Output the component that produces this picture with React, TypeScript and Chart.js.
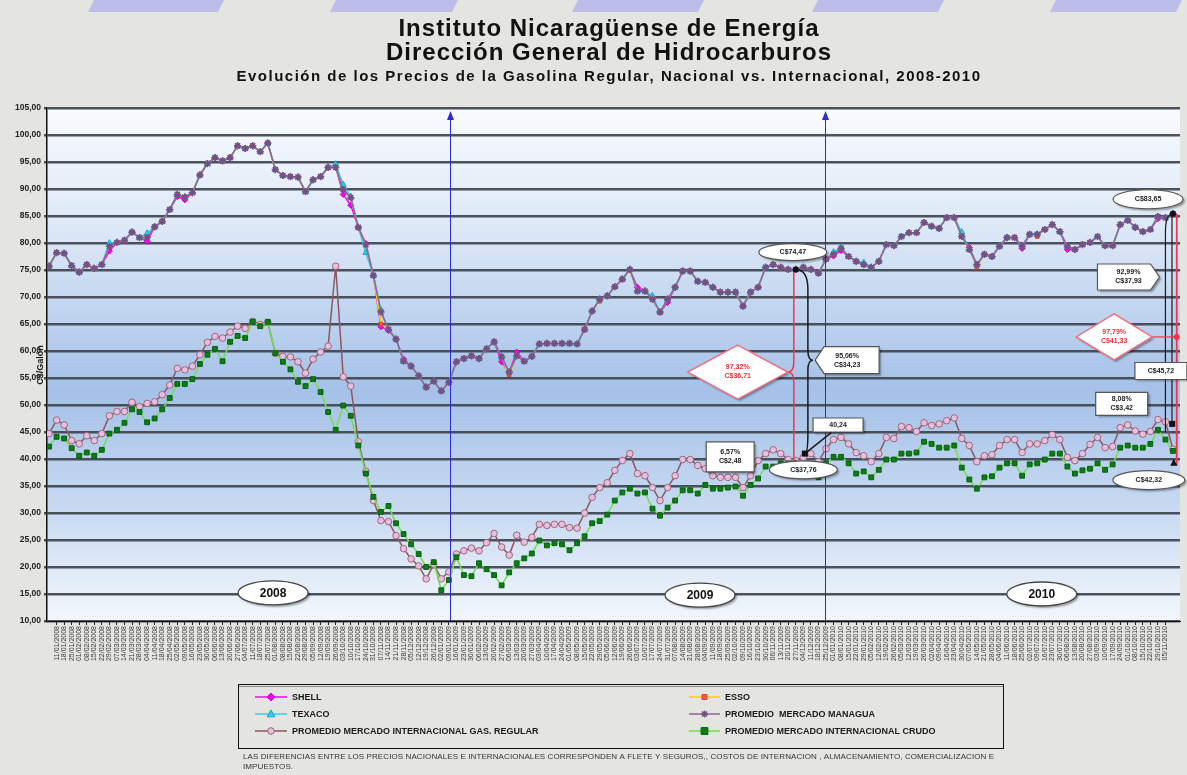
import React, { useEffect, useRef } from 'react';
import { Chart, registerables } from 'chart.js';

Chart.register(...registerables);

// ---------------- DATA ----------------
const WEEK_COUNT = 150;
const FIRST_WEEK = { year: 2008, month: 0, day: 4 };
const WEEK_LABELS: string[] = Array.from({ length: WEEK_COUNT }, (_, i) => {
  const d = new Date(Date.UTC(FIRST_WEEK.year, FIRST_WEEK.month, FIRST_WEEK.day + 7 * i));
  const dd = String(d.getUTCDate()).padStart(2, '0');
  const mm = String(d.getUTCMonth() + 1).padStart(2, '0');
  return `${dd}/${mm}/${d.getUTCFullYear()}`;
});

const MANAGUA = [
  75.7, 78.2, 78.1, 75.8, 74.6, 76.0, 75.3, 76.0, 79.4, 80.1,
  80.5, 82.0, 81.0, 81.0, 83.0, 84.0, 86.2, 89.0, 88.5, 89.3,
  92.6, 94.7, 95.8, 95.2, 95.8, 98.0, 97.5, 98.0, 96.9, 98.5,
  93.6, 92.5, 92.3, 92.2, 89.5, 91.7, 92.3, 94.0, 94.0, 89.9,
  88.4, 82.9, 79.7, 74.0, 67.2, 64.0, 62.2, 58.1, 57.2, 55.4,
  53.3, 54.4, 52.6, 54.2, 58.0, 58.6, 59.1, 58.6, 60.4, 61.7,
  58.9, 56.1, 59.1, 58.1, 59.0, 61.3, 61.4, 61.4, 61.4, 61.4,
  61.3, 64.0, 67.4, 69.6, 70.2, 71.9, 73.3, 75.1, 71.1, 71.1,
  69.6, 67.2, 69.6, 71.8, 74.8, 74.8, 72.9, 72.7, 71.8, 70.9,
  70.9, 70.9, 68.3, 70.9, 71.8, 75.5, 76.0, 75.5, 75.1, 75.1,
  75.5, 75.1, 74.4, 77.0, 77.9, 79.0, 77.5, 76.6, 76.0, 75.5,
  76.6, 79.7, 79.5, 81.2, 81.9, 81.9, 83.8, 83.1, 82.7, 84.7,
  84.7, 81.2, 78.8, 76.0, 77.9, 77.5, 79.4, 81.0, 81.0, 79.4,
  81.6, 81.6, 82.5, 83.4, 82.1, 79.4, 78.8, 79.7, 80.1, 81.2,
  79.5, 79.5, 83.4, 84.2, 82.9, 82.1, 82.5, 84.9, 84.7, 85.4,
];

const SHELL = [
  75.7, 78.2, 78.1, 75.8, 74.6, 76.0, 75.3, 76.0, 78.5, 80.1,
  80.5, 82.0, 81.0, 80.3, 83.0, 84.0, 86.2, 88.6, 88.0, 89.3,
  92.6, 94.7, 95.8, 95.2, 95.8, 98.0, 97.5, 98.0, 96.9, 98.5,
  93.6, 92.5, 92.3, 92.2, 89.5, 91.7, 92.3, 94.0, 94.0, 89.0,
  87.0, 82.9, 79.9, 74.0, 64.5, 63.8, 62.2, 58.5, 57.2, 55.4,
  53.3, 54.4, 52.6, 54.2, 58.0, 58.6, 59.1, 58.6, 60.4, 61.7,
  58.0, 56.1, 59.8, 58.1, 59.0, 61.3, 61.4, 61.4, 61.4, 61.4,
  61.3, 64.0, 67.4, 69.6, 70.2, 71.9, 73.3, 75.1, 71.8, 71.1,
  69.6, 67.2, 69.0, 71.8, 74.8, 74.8, 72.9, 72.7, 71.8, 70.9,
  70.9, 70.9, 68.3, 70.9, 71.8, 75.5, 76.0, 75.5, 75.1, 75.1,
  75.5, 75.1, 74.4, 77.0, 77.6, 78.6, 77.5, 76.6, 76.0, 75.5,
  76.6, 79.7, 79.5, 81.2, 81.9, 81.9, 83.8, 83.1, 82.7, 84.7,
  84.7, 81.2, 79.2, 76.0, 77.9, 77.5, 79.4, 81.0, 81.0, 79.0,
  81.6, 81.6, 82.5, 83.4, 82.1, 78.8, 78.8, 79.7, 80.1, 81.2,
  79.5, 79.5, 83.4, 84.2, 82.9, 82.1, 82.5, 84.5, 84.7, 85.4,
];

const ESSO = [
  75.7, 78.2, 78.1, 75.8, 74.6, 76.0, 75.3, 76.0, 79.4, 80.1,
  80.5, 82.0, 81.0, 81.0, 83.0, 84.0, 86.2, 89.0, 88.5, 89.3,
  92.6, 94.7, 95.8, 95.2, 95.8, 98.0, 97.5, 98.0, 96.9, 98.5,
  93.6, 92.5, 92.3, 92.2, 89.5, 91.7, 92.3, 94.0, 94.0, 89.9,
  88.4, 82.9, 79.7, 74.0, 65.0, 64.0, 62.2, 58.1, 57.2, 55.4,
  53.3, 54.4, 52.6, 54.2, 58.0, 58.6, 59.1, 58.6, 60.4, 61.7,
  58.9, 55.6, 59.1, 58.1, 59.0, 61.3, 61.4, 61.4, 61.4, 61.4,
  61.3, 64.0, 67.4, 69.2, 70.2, 71.9, 73.3, 75.1, 71.1, 71.1,
  69.6, 67.2, 69.6, 71.8, 74.8, 74.8, 72.9, 72.7, 71.8, 70.9,
  70.9, 70.9, 68.3, 70.9, 71.8, 75.5, 76.0, 75.5, 75.1, 75.1,
  75.5, 75.1, 74.4, 77.0, 77.9, 79.0, 77.5, 76.6, 76.0, 75.5,
  76.6, 79.7, 79.5, 81.2, 81.9, 81.9, 83.8, 83.1, 82.7, 84.7,
  84.7, 81.2, 78.8, 75.5, 77.9, 77.5, 79.4, 81.0, 81.0, 79.4,
  81.6, 81.2, 82.5, 83.4, 82.1, 79.4, 78.8, 79.7, 80.1, 81.2,
  79.5, 79.5, 83.4, 84.2, 82.9, 82.1, 82.5, 84.9, 84.7, 85.4,
];

const TEXACO = [
  75.7, 78.2, 78.1, 75.8, 74.6, 76.0, 75.3, 76.0, 80.0, 80.1,
  80.5, 82.0, 81.0, 81.8, 83.0, 84.0, 86.2, 89.0, 88.5, 89.3,
  92.6, 94.7, 95.8, 95.2, 95.8, 98.0, 97.5, 98.0, 96.9, 98.5,
  93.6, 92.5, 92.3, 92.2, 89.5, 91.7, 92.3, 94.0, 94.6, 90.8,
  88.6, 82.9, 78.2, 74.0, 67.6, 64.0, 62.2, 58.1, 57.2, 55.4,
  53.3, 54.4, 52.6, 54.2, 58.0, 58.6, 59.1, 58.6, 60.4, 61.7,
  58.9, 56.1, 59.1, 58.1, 59.0, 61.3, 61.4, 61.4, 61.4, 61.4,
  61.3, 64.0, 67.4, 69.6, 70.2, 71.9, 73.3, 75.1, 71.1, 71.1,
  70.2, 67.2, 69.6, 71.8, 74.8, 74.8, 72.9, 72.7, 71.8, 70.9,
  70.9, 70.9, 68.3, 70.9, 71.8, 75.5, 76.0, 75.5, 75.1, 75.1,
  75.5, 75.1, 74.4, 77.0, 78.3, 79.2, 77.5, 76.6, 76.4, 75.5,
  76.6, 79.7, 79.5, 81.2, 81.9, 81.9, 83.8, 83.1, 82.7, 84.7,
  84.7, 82.0, 78.8, 76.0, 77.9, 77.5, 79.4, 81.0, 81.0, 79.4,
  81.6, 81.6, 82.5, 83.4, 82.1, 79.4, 78.8, 79.7, 80.1, 81.2,
  79.5, 79.5, 83.4, 84.2, 82.9, 82.1, 82.5, 84.9, 84.7, 85.4,
];

const INT_GAS = [
  44.7, 47.2, 46.3, 43.4, 42.8, 44.3, 43.4, 44.7, 48.0, 48.8,
  48.8, 50.5, 49.7, 50.3, 50.6, 51.9, 53.7, 56.8, 56.5, 57.2,
  59.3, 61.6, 62.7, 62.4, 63.5, 64.6, 64.2, 65.5, 64.9, 65.3,
  59.6, 59.0, 58.9, 58.0, 55.9, 58.5, 59.8, 60.9, 75.7, 55.2,
  53.5, 43.2, 37.7, 32.3, 28.6, 28.4, 25.8, 23.4, 21.5, 20.2,
  17.8, 20.5, 17.8, 19.1, 22.4, 23.0, 23.5, 23.0, 24.5, 26.2,
  23.7, 22.2, 25.9, 24.6, 25.5, 27.9, 27.7, 27.9, 27.9, 27.3,
  27.2, 30.0, 32.9, 34.7, 35.6, 37.9, 39.7, 41.0, 37.3, 36.9,
  34.7, 32.3, 34.7, 36.9, 39.9, 39.9, 38.8, 38.2, 36.9, 36.6,
  36.6, 36.6, 34.7, 36.9, 39.7, 41.0, 41.7, 41.0, 39.9, 39.7,
  40.3, 41.0, 39.5, 41.9, 43.6, 44.0, 42.8, 41.2, 40.6, 39.5,
  41.0, 44.0, 43.8, 46.0, 45.8, 45.1, 46.7, 46.2, 46.5, 47.1,
  47.6, 43.8, 42.5, 39.5, 40.6, 40.8, 42.5, 43.6, 43.6, 41.2,
  42.8, 42.8, 43.4, 44.5, 43.6, 40.3, 39.7, 41.0, 42.7, 44.0,
  42.1, 42.3, 45.8, 46.3, 45.2, 44.6, 45.1, 47.3, 46.9, 41.8,
];

const INT_CRUDO = [
  42.3, 44.1, 43.8, 42.0, 40.6, 41.2, 40.6, 41.7, 44.7, 45.4,
  46.7, 49.2, 48.7, 46.8, 47.5, 49.2, 51.3, 53.9, 53.9, 54.8,
  57.6, 59.3, 60.4, 58.1, 61.7, 62.8, 62.4, 65.4, 64.6, 65.4,
  59.6, 58.0, 56.6, 54.3, 53.5, 54.8, 52.4, 48.7, 45.4, 49.9,
  48.0, 42.5, 37.3, 33.0, 30.2, 31.3, 28.1, 26.1, 24.2, 22.4,
  20.0, 20.9, 15.7, 17.6, 21.8, 18.5, 18.3, 20.7, 19.6, 18.5,
  16.6, 19.0, 20.7, 21.6, 22.5, 24.9, 24.0, 24.4, 24.2, 23.1,
  24.4, 25.7, 28.1, 28.5, 29.7, 32.3, 33.8, 34.5, 33.6, 33.8,
  30.8, 29.5, 31.0, 32.3, 34.2, 34.2, 33.6, 35.2, 34.5, 34.5,
  34.7, 34.9, 33.2, 35.2, 36.4, 38.6, 38.6, 39.2, 39.2, 38.6,
  37.9, 38.4, 36.6, 39.2, 40.4, 40.4, 39.2, 37.3, 37.7, 36.6,
  38.0, 39.9, 39.9, 41.0, 41.0, 41.2, 43.2, 42.8, 42.1, 42.1,
  42.5, 38.4, 36.2, 34.5, 36.6, 36.8, 38.4, 39.2, 39.2, 36.9,
  39.0, 39.2, 39.9, 41.0, 41.0, 38.6, 37.3, 37.9, 38.2, 39.2,
  38.0, 39.0, 42.1, 42.5, 42.1, 42.1, 42.8, 45.4, 43.6, 41.5,
];

const Y_MIN = 10;
const Y_MAX = 105;
const Y_STEP = 5;

const TITLE_LINES = ['Instituto Nicaragüense de Energía', 'Dirección General de Hidrocarburos'];
const SUBTITLE = 'Evolución de los Precios de la Gasolina Regular, Nacional vs. Internacional, 2008-2010';
const Y_AXIS_TITLE = 'C$/Galón';
const FOOTNOTE = [
  'LAS DIFERENCIAS ENTRE LOS PRECIOS NACIONALES E INTERNACIONALES CORRESPONDEN A FLETE Y SEGUROS,, COSTOS DE INTERNACION , ALMACENAMIENTO, COMERCIALIZACION E',
  'IMPUESTOS.',
];

// year dividers (x in week index) and year tags
const YEAR_DIVIDERS = [53.2, 102.9];
const YEAR_TAGS = [
  { text: '2008', x: 29.7, y: 15.2 },
  { text: '2009', x: 86.3, y: 14.8 },
  { text: '2010', x: 131.6, y: 15.0 },
];

type Note = { kind: string; x: number; y: number; w: number; h: number; lines: string[]; red?: boolean };
const NOTES: Note[] = [
  { kind: 'ellipse', x: 98.6, y: 78.3, w: 68, h: 17, lines: ['C$74,47'] },
  { kind: 'diamond', x: 91.3, y: 56.1, w: 100, h: 54, lines: ['97,32%', 'C$36,71'], red: true },
  { kind: 'calloutL', x: 105.8, y: 58.3, w: 64, h: 27, lines: ['95,06%', 'C$34,23'] },
  { kind: 'box', x: 104.6, y: 46.3, w: 50, h: 14, lines: ['40,24'] },
  { kind: 'box', x: 90.3, y: 40.4, w: 48, h: 30, lines: ['6,57%', 'C$2,48'] },
  { kind: 'ellipse', x: 100.0, y: 38.0, w: 68, h: 18, lines: ['C$37,76'] },
  { kind: 'ellipse', x: 145.7, y: 88.1, w: 70, h: 19, lines: ['C$83,65'] },
  { kind: 'calloutR', x: 143.1, y: 73.7, w: 62, h: 26, lines: ['92,99%', 'C$37,93'] },
  { kind: 'diamond', x: 141.2, y: 62.6, w: 76, h: 46, lines: ['97,79%', 'C$41,33'], red: true },
  { kind: 'box', x: 147.4, y: 56.3, w: 52, h: 17, lines: ['C$45,72'] },
  { kind: 'box', x: 142.2, y: 50.2, w: 52, h: 23, lines: ['8,08%', 'C$3,42'] },
  { kind: 'ellipse', x: 145.8, y: 36.1, w: 72, h: 19, lines: ['C$42,32'] },
];

const SERIES = [
  { label: 'SHELL', data: SHELL, line: '#ff00ff', style: 'rectRot', fill: '#ff00ff', stroke: '#c400c4', r: 3, order: 3 },
  { label: 'ESSO', data: ESSO, line: '#ffd200', style: 'rect', fill: '#ff5c3a', stroke: '#e0401e', r: 2.5, order: 2 },
  { label: 'TEXACO', data: TEXACO, line: '#33ccee', style: 'triangle', fill: '#33ccee', stroke: '#1aa6d0', r: 3.5, order: 1 },
  { label: 'PROMEDIO  MERCADO MANAGUA', data: MANAGUA, line: '#8a6a8e', style: 'star', fill: '#9a5a9a', stroke: '#765080', r: 3.6, order: 0 },
  { label: 'PROMEDIO MERCADO INTERNACIONAL GAS. REGULAR', data: INT_GAS, line: '#8e5660', style: 'circle', fill: '#e9bde3', stroke: '#9a6a72', r: 3.3, order: 5 },
  { label: 'PROMEDIO MERCADO INTERNACIONAL CRUDO', data: INT_CRUDO, line: '#70e04c', style: 'rect', fill: '#0c7c18', stroke: '#06600f', r: 3.4, order: 4 },
];

// legend layout: [series index, column, row]
const LEGEND_ORDER = [[0, 0, 0], [1, 1, 0], [2, 0, 1], [3, 1, 1], [4, 0, 2], [5, 1, 2]];

const FONT = '"Liberation Sans", Arial, sans-serif';

function drawMarker(ctx: CanvasRenderingContext2D, style: string, x: number, y: number, r: number, fill: string, stroke: string) {
  ctx.save();
  ctx.fillStyle = fill;
  ctx.strokeStyle = stroke;
  ctx.lineWidth = 1;
  ctx.beginPath();
  if (style === 'circle') {
    ctx.arc(x, y, r, 0, Math.PI * 2);
    ctx.fill(); ctx.stroke();
  } else if (style === 'rect') {
    ctx.rect(x - r, y - r, 2 * r, 2 * r);
    ctx.fill(); ctx.stroke();
  } else if (style === 'rectRot') {
    const k = r * 1.3;
    ctx.moveTo(x, y - k); ctx.lineTo(x + k, y); ctx.lineTo(x, y + k); ctx.lineTo(x - k, y); ctx.closePath();
    ctx.fill(); ctx.stroke();
  } else if (style === 'triangle') {
    ctx.moveTo(x, y - r * 1.2); ctx.lineTo(x + r * 1.1, y + r * 0.8); ctx.lineTo(x - r * 1.1, y + r * 0.8); ctx.closePath();
    ctx.fill(); ctx.stroke();
  } else if (style === 'star') {
    ctx.lineWidth = 1.5;
    ctx.moveTo(x - r, y); ctx.lineTo(x + r, y);
    ctx.moveTo(x, y - r); ctx.lineTo(x, y + r);
    const d = r * 0.7;
    ctx.moveTo(x - d, y - d); ctx.lineTo(x + d, y + d);
    ctx.moveTo(x - d, y + d); ctx.lineTo(x + d, y - d);
    ctx.stroke();
  }
  ctx.restore();
}

function drawNote(ctx: CanvasRenderingContext2D, n: Note, cx: number, cy: number) {
  const x0 = cx - n.w / 2, x1 = cx + n.w / 2, y0 = cy - n.h / 2, y1 = cy + n.h / 2;
  ctx.save();
  ctx.beginPath();
  if (n.kind === 'ellipse') {
    ctx.ellipse(cx, cy, n.w / 2, n.h / 2, 0, 0, Math.PI * 2);
  } else if (n.kind === 'diamond') {
    ctx.moveTo(cx, y0); ctx.lineTo(x1, cy); ctx.lineTo(cx, y1); ctx.lineTo(x0, cy); ctx.closePath();
  } else if (n.kind === 'calloutL') {
    ctx.moveTo(x0 + 9, y0); ctx.lineTo(x1, y0); ctx.lineTo(x1, y1); ctx.lineTo(x0 + 9, y1); ctx.lineTo(x0, cy); ctx.closePath();
  } else if (n.kind === 'calloutR') {
    ctx.moveTo(x0, y0); ctx.lineTo(x1 - 9, y0); ctx.lineTo(x1, cy); ctx.lineTo(x1 - 9, y1); ctx.lineTo(x0, y1); ctx.closePath();
  } else {
    ctx.rect(x0, y0, n.w, n.h);
  }
  ctx.shadowColor = 'rgba(0,0,0,0.35)';
  ctx.shadowOffsetX = 2;
  ctx.shadowOffsetY = 2;
  ctx.shadowBlur = 2;
  ctx.fillStyle = '#ffffff';
  ctx.fill();
  ctx.shadowColor = 'transparent';
  ctx.lineWidth = n.red ? 1.5 : 1.2;
  ctx.strokeStyle = n.red ? '#ee6f80' : '#555555';
  ctx.stroke();
  ctx.fillStyle = n.red ? '#e8303c' : '#222222';
  ctx.font = `bold 7px ${FONT}`;
  ctx.textAlign = 'center';
  ctx.textBaseline = 'middle';
  const lh = 9;
  n.lines.forEach((t, i) => {
    ctx.fillText(t, cx, cy + (i - (n.lines.length - 1) / 2) * lh);
  });
  ctx.restore();
}

const pagePlugin = {
  id: 'pageDecor',
  beforeDraw(chart: any) {
    const { ctx, chartArea: a, width, height } = chart;
    ctx.save();
    ctx.fillStyle = '#e4e4e1';
    ctx.fillRect(0, 0, width, height);
    // decorative header bars
    ctx.fillStyle = '#bcbde8';
    const bars = [[88, 218], [330, 452], [572, 698], [812, 938], [1050, 1176]];
    bars.forEach(([b0, b1]) => {
      ctx.beginPath();
      ctx.moveTo(b0 + 6, 0); ctx.lineTo(b1 + 6, 0); ctx.lineTo(b1, 12); ctx.lineTo(b0, 12); ctx.closePath();
      ctx.fill();
    });
    const g = ctx.createLinearGradient(0, a.top, 0, a.bottom);
    g.addColorStop(0, '#f8fbfe');
    g.addColorStop(0.25, '#dbe7f6');
    g.addColorStop(0.55, '#a5c1e8');
    g.addColorStop(0.8, '#cbdcf2');
    g.addColorStop(1, '#f3f7fc');
    ctx.fillStyle = g;
    ctx.fillRect(a.left, a.top, a.right - a.left, a.bottom - a.top);
    ctx.restore();
  },
  afterDatasetsDraw(chart: any) {
    const { ctx, chartArea: a } = chart;
    const X = (v: number) => chart.scales.x.getPixelForValue(v);
    const Y = (v: number) => chart.scales.y.getPixelForValue(v);
    ctx.save();
    // year dividers with arrowheads
    ctx.strokeStyle = '#2b2bd6';
    ctx.fillStyle = '#2b2bd6';
    ctx.lineWidth = 1;
    YEAR_DIVIDERS.forEach((d) => {
      const x = Math.round(X(d)) + 0.5;
      ctx.beginPath();
      ctx.moveTo(x, a.bottom); ctx.lineTo(x, a.top + 8); ctx.stroke();
      ctx.beginPath();
      ctx.moveTo(x, a.top + 3); ctx.lineTo(x + 3.5, a.top + 12); ctx.lineTo(x - 3.5, a.top + 12); ctx.closePath();
      ctx.fill();
    });

    // ---- connectors, 2009/2010 comparison ----
    const xa = X(99), ya = Y(MANAGUA[99]);
    ctx.strokeStyle = '#f0364a';
    ctx.lineWidth = 1.5;
    const rm = Y(56.1);
    ctx.beginPath();
    ctx.moveTo(xa - 2, ya);
    ctx.lineTo(xa - 2, rm - 10);
    ctx.quadraticCurveTo(xa - 2, rm, xa - 8, rm);
    ctx.quadraticCurveTo(xa - 2, rm, xa - 2, rm + 10);
    ctx.lineTo(xa - 2, Y(38.4));
    ctx.stroke();
    ctx.strokeStyle = '#1a1a1a';
    const bx = X(100.6), bm = Y(58.3), bEndX = X(100.2), bEndY = Y(41.0);
    ctx.beginPath();
    ctx.moveTo(xa, ya);
    ctx.quadraticCurveTo(bx, ya, bx, ya + 20);
    ctx.lineTo(bx, bm - 10);
    ctx.quadraticCurveTo(bx, bm, bx + 5, bm);
    ctx.quadraticCurveTo(bx, bm, bx, bm + 10);
    ctx.lineTo(bx, bEndY - 20);
    ctx.quadraticCurveTo(bx, bEndY, bEndX, bEndY);
    ctx.stroke();
    ctx.beginPath();
    ctx.moveTo(bEndX, bEndY);
    ctx.lineTo(X(103.7), Y(44.9));
    ctx.stroke();
    ctx.fillStyle = '#111';
    ctx.fillRect(bEndX - 3, bEndY - 3, 6, 6);
    ctx.beginPath(); ctx.arc(xa, ya, 3, 0, Math.PI * 2); ctx.fill();
    const tX = X(99), tY = Y(39.2);
    ctx.beginPath(); ctx.moveTo(tX, tY - 4); ctx.lineTo(tX + 3.5, tY + 3); ctx.lineTo(tX - 3.5, tY + 3); ctx.closePath(); ctx.fill();

    // ---- right-hand comparison ----
    const xe = X(149), ye = Y(MANAGUA[149]);
    ctx.strokeStyle = '#1a1a1a';
    ctx.lineWidth = 1.2;
    const lx = X(148.0);
    ctx.beginPath();
    ctx.moveTo(xe, ye);
    ctx.quadraticCurveTo(lx, ye, lx, ye + 18);
    ctx.lineTo(lx, Y(45.0));
    ctx.stroke();
    ctx.beginPath();
    ctx.moveTo(xe - 1, ye);
    ctx.lineTo(xe - 1, Y(46.5));
    ctx.stroke();
    ctx.strokeStyle = '#f0364a';
    ctx.lineWidth = 1.8;
    const rx = X(149.5);
    ctx.beginPath();
    ctx.moveTo(rx, ye);
    ctx.lineTo(rx, Y(38.8));
    ctx.stroke();
    ctx.lineWidth = 1.2;
    ctx.beginPath();
    ctx.moveTo(X(141.2) + 38, Y(62.6));
    ctx.lineTo(rx, Y(62.6));
    ctx.stroke();
    ctx.fillStyle = '#f0364a';
    ctx.beginPath(); ctx.arc(rx, Y(62.6), 3, 0, Math.PI * 2); ctx.fill();
    ctx.fillStyle = '#111';
    ctx.beginPath(); ctx.arc(xe, ye, 3, 0, Math.PI * 2); ctx.fill();
    const t2X = X(149.1), t2Y = Y(39.3);
    ctx.beginPath(); ctx.moveTo(t2X, t2Y - 4); ctx.lineTo(t2X + 3.5, t2Y + 3); ctx.lineTo(t2X - 3.5, t2Y + 3); ctx.closePath(); ctx.fill();
    ctx.fillRect(X(148.9) - 3, Y(46.5) - 3, 6, 6);

    NOTES.forEach((n) => drawNote(ctx, n, X(n.x), Y(n.y)));

    YEAR_TAGS.forEach((t) => {
      const cx = X(t.x), cy = Y(t.y);
      ctx.save();
      ctx.beginPath();
      ctx.ellipse(cx, cy, 35, 12, 0, 0, Math.PI * 2);
      ctx.shadowColor = 'rgba(0,0,0,0.35)';
      ctx.shadowOffsetX = 2; ctx.shadowOffsetY = 2; ctx.shadowBlur = 2;
      ctx.fillStyle = '#ffffff';
      ctx.fill();
      ctx.shadowColor = 'transparent';
      ctx.strokeStyle = '#444';
      ctx.lineWidth = 1.3;
      ctx.stroke();
      ctx.fillStyle = '#111';
      ctx.font = `bold 12px ${FONT}`;
      ctx.textAlign = 'center';
      ctx.textBaseline = 'middle';
      ctx.fillText(t.text, cx, cy + 1);
      ctx.restore();
    });
    ctx.restore();
  },
  afterDraw(chart: any) {
    const { ctx, chartArea: a } = chart;
    const Y = (v: number) => chart.scales.y.getPixelForValue(v);
    const c: any = ctx;
    ctx.save();
    ctx.fillStyle = '#111';
    ctx.textAlign = 'center';
    ctx.textBaseline = 'middle';
    c.letterSpacing = '1px';
    ctx.font = `bold 24px ${FONT}`;
    ctx.fillText(TITLE_LINES[0], 609, 29);
    ctx.fillText(TITLE_LINES[1], 609, 53);
    c.letterSpacing = '1.5px';
    ctx.font = `bold 15px ${FONT}`;
    ctx.fillText(SUBTITLE, 609, 77);
    c.letterSpacing = '0px';

    ctx.save();
    ctx.translate(a.left - 6, Y(57.4));
    ctx.rotate(-Math.PI / 2);
    ctx.font = `bold 9px ${FONT}`;
    ctx.fillStyle = '#222';
    ctx.fillText(Y_AXIS_TITLE, 0, 0);
    ctx.restore();

    // legend box
    ctx.strokeStyle = '#111';
    ctx.lineWidth = 1;
    ctx.strokeRect(238.5, 684.5, 765, 64);
    ctx.strokeStyle = '#888';
    ctx.beginPath(); ctx.moveTo(239, 686.5); ctx.lineTo(1003, 686.5); ctx.stroke();
    const colLine = [[255, 287], [689, 720]];
    const rowY = [697, 714, 731];
    ctx.font = `bold 9px ${FONT}`;
    ctx.textAlign = 'left';
    LEGEND_ORDER.forEach(([si, col, r]) => {
      const s = SERIES[si];
      const y = rowY[r];
      ctx.strokeStyle = s.line;
      ctx.lineWidth = 1.5;
      ctx.beginPath(); ctx.moveTo(colLine[col][0], y); ctx.lineTo(colLine[col][1], y); ctx.stroke();
      drawMarker(ctx, s.style, (colLine[col][0] + colLine[col][1]) / 2, y, s.r, s.fill, s.stroke);
      ctx.fillStyle = '#1a1a1a';
      ctx.fillText(s.label, colLine[col][1] + 5, y + 0.5);
    });

    // footnote
    ctx.font = `8px ${FONT}`;
    c.letterSpacing = '0.1px';
    ctx.fillStyle = '#333';
    ctx.fillText(FOOTNOTE[0], 243, 757);
    ctx.fillText(FOOTNOTE[1], 243, 767);
    c.letterSpacing = '0px';
    ctx.restore();
  },
};

export default function App() {
  const ref = useRef<HTMLCanvasElement | null>(null);

  useEffect(() => {
    document.body.style.margin = '0';
    document.body.style.overflow = 'hidden';
    if (!ref.current) return;
    const chart = new Chart(ref.current, {
      type: 'line',
      data: {
        datasets: SERIES.map((s) => ({
          label: s.label,
          data: s.data.map((v, i) => ({ x: i, y: v })),
          borderColor: s.line,
          backgroundColor: s.fill,
          borderWidth: 1.5,
          pointStyle: s.style as any,
          pointRadius: s.r,
          pointBackgroundColor: s.fill,
          pointBorderColor: s.stroke,
          pointBorderWidth: s.style === 'star' ? 1.5 : 1,
          tension: 0,
          order: s.order,
        })),
      },
      plugins: [pagePlugin],
      options: {
        responsive: false,
        animation: false,
        devicePixelRatio: 1,
        layout: { padding: { top: 108, right: 7, left: 0, bottom: 0 } },
        plugins: {
          legend: { display: false },
          title: { display: false },
          tooltip: { enabled: false },
        },
        scales: {
          x: {
            type: 'linear',
            min: -0.27,
            max: 149.93,
            afterBuildTicks: (s: any) => {
              s.ticks = s.ticks.filter((t: any) => Number.isInteger(t.value) && t.value >= 0 && t.value < WEEK_COUNT);
            },
            afterFit: (s: any) => { s.height = 154; },
            ticks: {
              stepSize: 1,
              autoSkip: false,
              maxRotation: 90,
              minRotation: 90,
              padding: 1,
              color: '#3a3a3a',
              font: { size: 7, family: FONT },
              callback: (v: any) => WEEK_LABELS[v] ?? '',
            },
            grid: { drawOnChartArea: false, drawTicks: true, tickLength: 4, color: '#222' },
            border: { display: true, color: '#111', width: 1 },
          },
          y: {
            min: Y_MIN,
            max: Y_MAX,
            afterFit: (s: any) => { s.width = 47; },
            ticks: {
              stepSize: Y_STEP,
              padding: 3,
              color: '#222',
              font: { size: 8.5, weight: 'bold', family: FONT },
              callback: (v: any) => Number(v).toFixed(2).replace('.', ','),
            },
            grid: { color: 'rgba(62,68,78,0.92)', lineWidth: 2.4, drawTicks: true, tickLength: 3 },
            border: { display: true, color: '#111', width: 1.5 },
          },
        },
      },
    });
    return () => chart.destroy();
  }, []);

  return (
    <div style={{ width: 1187, height: 775, position: 'relative' }}>
      <canvas ref={ref} width={1187} height={775} style={{ display: 'block', width: 1187, height: 775 }} />
    </div>
  );
}
